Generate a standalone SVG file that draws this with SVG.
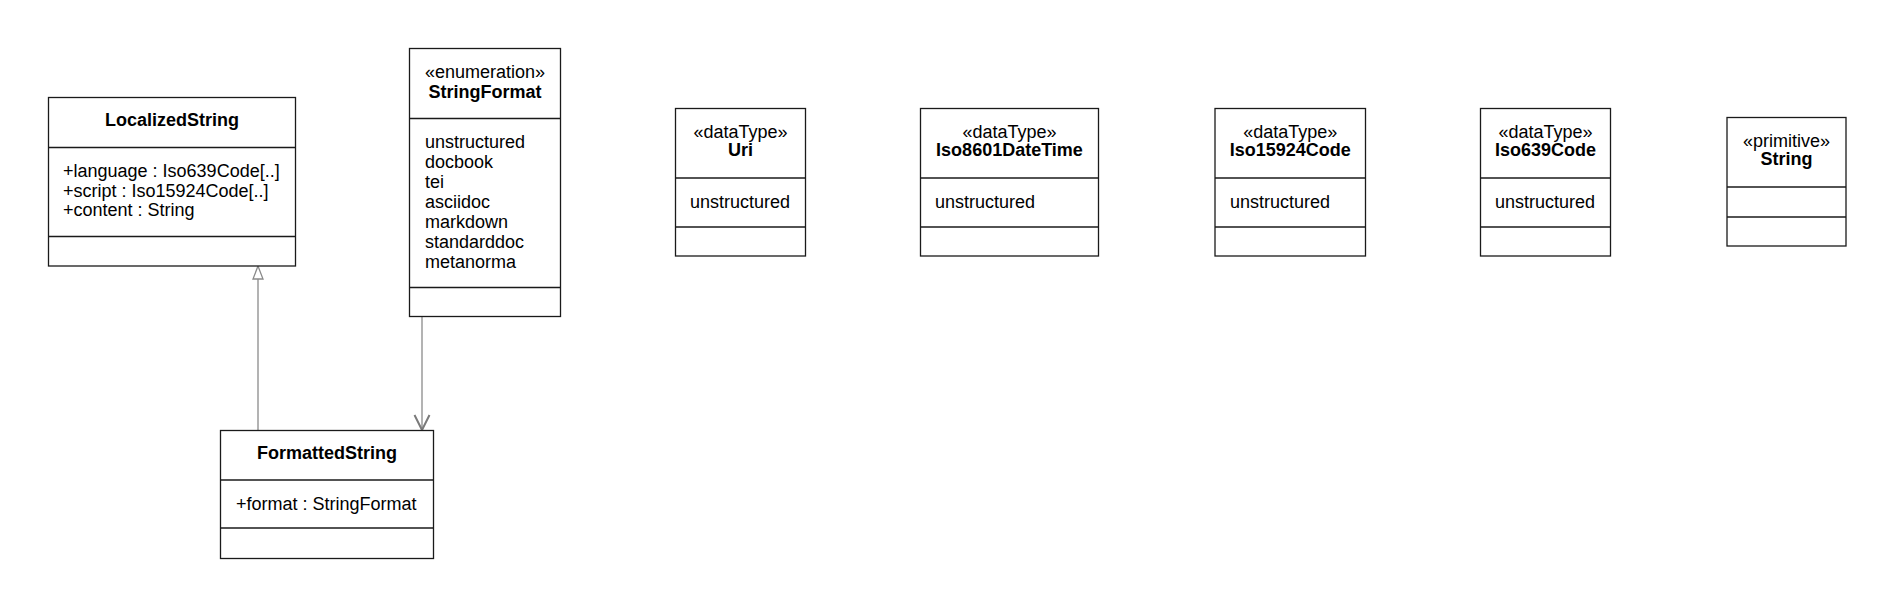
<svg xmlns="http://www.w3.org/2000/svg" width="1893" height="607" viewBox="0 0 1893 607">
<style>
.box{fill:#fff;stroke:#1a1a1a;stroke-width:1.3}
.div{stroke:#1a1a1a;stroke-width:1.3}
text{font-family:"Liberation Sans",Arial,Helvetica,sans-serif;font-size:18px;fill:#000}
.t{font-weight:bold;text-anchor:middle}
.s{text-anchor:middle}
.conn{stroke:#8a8a8a;stroke-width:1.3;fill:none}
</style>
<rect width="1893" height="607" fill="#fff"/>
<g id="connectors">
<line class="conn" x1="258" y1="279" x2="258" y2="431"/>
<polygon points="258,266 253,279 263,279" fill="#fff" stroke="#8a8a8a" stroke-width="1.3"/>
<line class="conn" x1="422" y1="316.5" x2="422" y2="430"/>
<polyline points="414.5,415 422,430 429.5,415" fill="none" stroke="#7a7a7a" stroke-width="2"/>
</g>
<g id="LocalizedString">
<rect class="box" x="48.5" y="97.5" width="247" height="168.5"/>
<line class="div" x1="48.5" y1="147.5" x2="295.5" y2="147.5"/>
<line class="div" x1="48.5" y1="236.5" x2="295.5" y2="236.5"/>
<text class="t" x="172" y="126">LocalizedString</text>
<text x="63" y="177">+language : Iso639Code[..]</text>
<text x="63" y="197">+script : Iso15924Code[..]</text>
<text x="63" y="216">+content : String</text>
</g>
<g id="StringFormat">
<rect class="box" x="409.5" y="48.5" width="151" height="268"/>
<line class="div" x1="409.5" y1="118.5" x2="560.5" y2="118.5"/>
<line class="div" x1="409.5" y1="287.5" x2="560.5" y2="287.5"/>
<text class="s" x="485" y="78">«enumeration»</text>
<text class="t" x="485" y="98">StringFormat</text>
<text x="425" y="148">unstructured</text>
<text x="425" y="168">docbook</text>
<text x="425" y="188">tei</text>
<text x="425" y="208">asciidoc</text>
<text x="425" y="228">markdown</text>
<text x="425" y="248">standarddoc</text>
<text x="425" y="268">metanorma</text>
</g>
<g id="FormattedString">
<rect class="box" x="220.5" y="430.5" width="213" height="128"/>
<line class="div" x1="220.5" y1="480" x2="433.5" y2="480"/>
<line class="div" x1="220.5" y1="528" x2="433.5" y2="528"/>
<text class="t" x="327" y="459">FormattedString</text>
<text x="236" y="510">+format : StringFormat</text>
</g>
<g id="Uri">
<rect class="box" x="675.5" y="108.5" width="130" height="147.5"/>
<line class="div" x1="675.5" y1="178" x2="805.5" y2="178"/>
<line class="div" x1="675.5" y1="227" x2="805.5" y2="227"/>
<text class="s" x="740.5" y="138">«dataType»</text>
<text class="t" x="740.5" y="156">Uri</text>
<text x="690" y="208">unstructured</text>
</g>
<g id="Iso8601DateTime">
<rect class="box" x="920.5" y="108.5" width="178" height="147.5"/>
<line class="div" x1="920.5" y1="178" x2="1098.5" y2="178"/>
<line class="div" x1="920.5" y1="227" x2="1098.5" y2="227"/>
<text class="s" x="1009.5" y="138">«dataType»</text>
<text class="t" x="1009.5" y="156">Iso8601DateTime</text>
<text x="935" y="208">unstructured</text>
</g>
<g id="Iso15924Code">
<rect class="box" x="1215" y="108.5" width="150.5" height="147.5"/>
<line class="div" x1="1215" y1="178" x2="1365.5" y2="178"/>
<line class="div" x1="1215" y1="227" x2="1365.5" y2="227"/>
<text class="s" x="1290.25" y="138">«dataType»</text>
<text class="t" x="1290.25" y="156">Iso15924Code</text>
<text x="1230" y="208">unstructured</text>
</g>
<g id="Iso639Code">
<rect class="box" x="1480.5" y="108.5" width="130" height="147.5"/>
<line class="div" x1="1480.5" y1="178" x2="1610.5" y2="178"/>
<line class="div" x1="1480.5" y1="227" x2="1610.5" y2="227"/>
<text class="s" x="1545.5" y="138">«dataType»</text>
<text class="t" x="1545.5" y="156">Iso639Code</text>
<text x="1495" y="208">unstructured</text>
</g>
<g id="String">
<rect class="box" x="1727" y="117.5" width="119" height="128.5"/>
<line class="div" x1="1727" y1="187" x2="1846" y2="187"/>
<line class="div" x1="1727" y1="217" x2="1846" y2="217"/>
<text class="s" x="1786.5" y="147">«primitive»</text>
<text class="t" x="1786.5" y="165">String</text>
</g>
</svg>
